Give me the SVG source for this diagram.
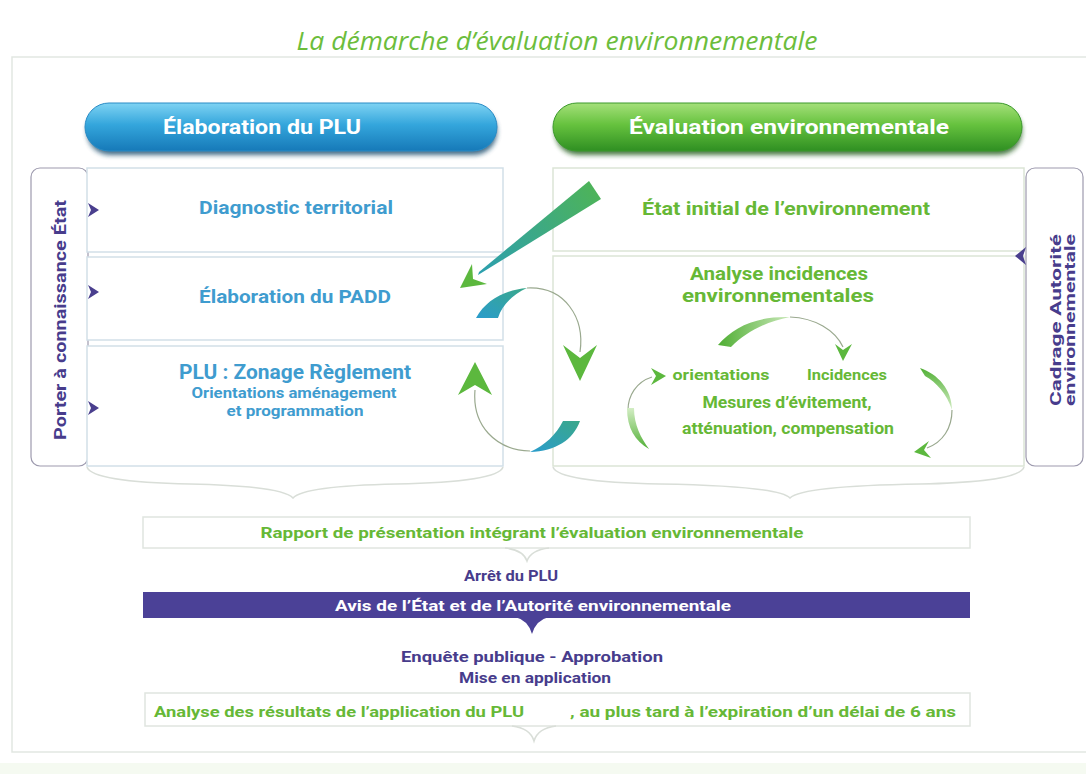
<svg xmlns="http://www.w3.org/2000/svg" width="1086" height="774" viewBox="0 0 1086 774">
<defs>
<style>
.t{font-family:Roboto,"Open Sans","Liberation Sans",sans-serif;font-weight:700;}
.blue{fill:#3f9ccf;}
.green{fill:#66b836;}
.purple{fill:#473c8c;}
.lbox{fill:#ffffff;stroke:#d2dfe8;stroke-width:1.5;}
.rbox{fill:#ffffff;stroke:#dbe5d6;stroke-width:1.5;}
.side{fill:#ffffff;stroke:#9d9aae;stroke-width:1.2;}
.brace{fill:none;stroke:#d9ded8;stroke-width:1.6;}
.thin{fill:none;stroke:#9aa98f;stroke-width:1.2;}
.head{fill:#5cb83e;}
.tri{fill:#4a3f8e;}
</style>
<linearGradient id="gBlue" x1="0" y1="0" x2="0" y2="1">
<stop offset="0" stop-color="#7fd3f3"/>
<stop offset="0.45" stop-color="#34a6dc"/>
<stop offset="1" stop-color="#1679b8"/>
</linearGradient>
<linearGradient id="gGreen" x1="0" y1="0" x2="0" y2="1">
<stop offset="0" stop-color="#a5e07a"/>
<stop offset="0.45" stop-color="#66c23e"/>
<stop offset="1" stop-color="#2f8f22"/>
</linearGradient>
<linearGradient id="gWedge" x1="595" y1="190" x2="478" y2="274" gradientUnits="userSpaceOnUse">
<stop offset="0" stop-color="#4db35a"/>
<stop offset="1" stop-color="#2c9fb0"/>
</linearGradient>
<linearGradient id="gCres" x1="0" y1="1" x2="1" y2="0">
<stop offset="0" stop-color="#2a9ccc"/>
<stop offset="1" stop-color="#3aa88a"/>
</linearGradient>
<linearGradient id="gArc" x1="0" y1="0" x2="1" y2="0">
<stop offset="0" stop-color="#4fae33"/>
<stop offset="1" stop-color="#c9e8b8"/>
</linearGradient>
<linearGradient id="gArcV" x1="0" y1="0" x2="0" y2="1">
<stop offset="0" stop-color="#d3edc4"/>
<stop offset="1" stop-color="#52b036"/>
</linearGradient>
<linearGradient id="gArcV2" x1="0" y1="0" x2="0" y2="1">
<stop offset="0" stop-color="#52b036"/>
<stop offset="1" stop-color="#d3edc4"/>
</linearGradient>
<filter id="sh" x="-10%" y="-30%" width="120%" height="170%">
<feGaussianBlur stdDeviation="2.5"/>
</filter>
</defs>

<rect x="0" y="0" width="1086" height="774" fill="#ffffff"/>
<rect x="12" y="57" width="1090" height="695" fill="#ffffff" stroke="#e2e7e2" stroke-width="1.5"/>
<rect x="0" y="763" width="1086" height="11" fill="#f5faf1"/>

<g id="title">
<text x="557" y="50" text-anchor="middle" font-family="'Open Sans','Liberation Sans',sans-serif" font-style="italic" font-size="26" fill="#6cbd3c" textLength="521" lengthAdjust="spacingAndGlyphs">La démarche d’évaluation environnementale</text>
</g>

<g id="header-plu">
<rect x="87" y="108" width="410" height="47" rx="23" fill="#17496a" filter="url(#sh)" opacity="0.8"/>
<rect x="85" y="103" width="412" height="48" rx="24" fill="url(#gBlue)" stroke="#2a8cc6" stroke-width="1"/>
<text class="t" x="262" y="134" text-anchor="middle" font-size="20" fill="#ffffff" textLength="198" lengthAdjust="spacingAndGlyphs">Élaboration du PLU</text>
</g>

<g id="header-eval">
<rect x="555" y="108" width="467" height="47" rx="23" fill="#1d5a17" filter="url(#sh)" opacity="0.8"/>
<rect x="553" y="103" width="469" height="48" rx="24" fill="url(#gGreen)" stroke="#3c9a2c" stroke-width="1"/>
<text class="t" x="789" y="134" text-anchor="middle" font-size="20" fill="#ffffff" textLength="320" lengthAdjust="spacingAndGlyphs">Évaluation environnementale</text>
</g>

<g id="porter">
<rect class="side" x="31" y="168" width="57" height="298" rx="9"/>
<text class="t purple" transform="translate(66,320) rotate(-90)" text-anchor="middle" font-size="16" textLength="240" lengthAdjust="spacingAndGlyphs">Porter à connaissance État</text>
</g>

<g id="cadrage">
<rect class="side" x="1026" y="168" width="57" height="298" rx="9"/>
<text class="t purple" transform="translate(1061,320) rotate(-90)" text-anchor="middle" font-size="14" textLength="172" lengthAdjust="spacingAndGlyphs">Cadrage Autorité</text>
<text class="t purple" transform="translate(1075,320) rotate(-90)" text-anchor="middle" font-size="14" textLength="172" lengthAdjust="spacingAndGlyphs">environnementale</text>
</g>

<g id="diagnostic">
<rect class="lbox" x="87" y="168" width="416" height="84"/>
<text class="t blue" x="296" y="214" text-anchor="middle" font-size="18" textLength="194" lengthAdjust="spacingAndGlyphs">Diagnostic territorial</text>
</g>

<g id="padd">
<rect class="lbox" x="87" y="257" width="416" height="83"/>
<text class="t blue" x="295" y="303" text-anchor="middle" font-size="18" textLength="192" lengthAdjust="spacingAndGlyphs">Élaboration du PADD</text>
</g>

<g id="zonage">
<rect class="lbox" x="87" y="346" width="416" height="120"/>
<text class="t blue" x="295" y="379" text-anchor="middle" font-size="20" textLength="232" lengthAdjust="spacingAndGlyphs">PLU : Zonage Règlement</text>
<text class="t blue" x="294" y="398" text-anchor="middle" font-size="15" textLength="205" lengthAdjust="spacingAndGlyphs">Orientations aménagement</text>
<text class="t blue" x="295" y="416" text-anchor="middle" font-size="15" textLength="137" lengthAdjust="spacingAndGlyphs">et programmation</text>
</g>

<g id="etat-initial">
<rect class="rbox" x="553" y="168" width="471" height="83"/>
<text class="t green" x="786" y="215" text-anchor="middle" font-size="18" textLength="288" lengthAdjust="spacingAndGlyphs">État initial de l’environnement</text>
</g>

<g id="analyse">
<rect class="rbox" x="553" y="256" width="471" height="210"/>
<text class="t green" x="779" y="280" text-anchor="middle" font-size="19" textLength="178" lengthAdjust="spacingAndGlyphs">Analyse incidences</text>
<text class="t green" x="778" y="302" text-anchor="middle" font-size="19" textLength="192" lengthAdjust="spacingAndGlyphs">environnementales</text>
<text class="t green" x="721" y="380" text-anchor="middle" font-size="15" textLength="97" lengthAdjust="spacingAndGlyphs">orientations</text>
<text class="t green" x="847" y="380" text-anchor="middle" font-size="15" textLength="80" lengthAdjust="spacingAndGlyphs">Incidences</text>
<text class="t green" x="787" y="408" text-anchor="middle" font-size="16" textLength="169" lengthAdjust="spacingAndGlyphs">Mesures d’évitement,</text>
<text class="t green" x="788" y="434" text-anchor="middle" font-size="16" textLength="212" lengthAdjust="spacingAndGlyphs">atténuation, compensation</text>
</g>

<g id="rapport">
<rect x="143" y="517" width="827" height="31" fill="#ffffff" stroke="#e0e5df" stroke-width="1.5"/>
<text class="t green" x="532" y="538" text-anchor="middle" font-size="15" textLength="543" lengthAdjust="spacingAndGlyphs">Rapport de présentation intégrant l’évaluation environnementale</text>
</g>

<g id="arret">
<text class="t purple" x="511" y="581" text-anchor="middle" font-size="14" textLength="94" lengthAdjust="spacingAndGlyphs">Arrêt du PLU</text>
</g>

<g id="avis">
<rect x="143" y="592" width="827" height="26" fill="#4b4197"/>
<text class="t" x="533" y="611" text-anchor="middle" font-size="15" fill="#ffffff" textLength="396" lengthAdjust="spacingAndGlyphs">Avis de l’État et de l’Autorité environnementale</text>
</g>

<g id="enquete">
<text class="t purple" x="532" y="662" text-anchor="middle" font-size="15" textLength="262" lengthAdjust="spacingAndGlyphs">Enquête publique  -  Approbation</text>
<text class="t purple" x="535" y="683" text-anchor="middle" font-size="15" textLength="152" lengthAdjust="spacingAndGlyphs">Mise en application</text>
</g>

<g id="analyse-resultats">
<rect x="145" y="693" width="825" height="33" fill="#ffffff" stroke="#e0e5df" stroke-width="1.5"/>
<text class="t green" x="154" y="717" font-size="15" textLength="370" lengthAdjust="spacingAndGlyphs">Analyse des résultats de l’application du PLU</text>
<text class="t green" x="570" y="717" font-size="15" textLength="386" lengthAdjust="spacingAndGlyphs">, au plus tard à l’expiration d’un délai de 6 ans</text>
</g>

<g id="connectors">
<!-- side triangles -->
<path class="tri" d="M88,203 L99,210 L88,217 L91,210 Z"/>
<path class="tri" d="M88,285 L99,292 L88,299 L91,292 Z"/>
<path class="tri" d="M88,401 L99,408 L88,415 L91,408 Z"/>
<path class="tri" d="M1026,247 L1015,256 L1026,265 L1023,256 Z"/>

<!-- braces -->
<path class="brace" d="M87,467 Q92,482 190,484 Q282,486 293,498 Q304,486 396,484 Q498,482 503,467"/>
<path class="brace" d="M553,467 Q558,482 660,484 Q778,486 790,498 Q802,486 920,484 Q1019,482 1024,467"/>
<path class="brace" d="M505,548 Q523,550 527,561 Q531,550 549,548"/>
<path class="brace" d="M512,726 Q530,728 534,741 Q538,728 556,726"/>

<!-- triangle under avis -->
<path d="M515,617 Q528,620 532,634 Q536,620 549,617 Z" fill="#4b4197"/>

<!-- wedge arrow from Etat initial to PADD -->
<polygon points="601,199 589,181 479,272 478,275" fill="url(#gWedge)"/>
<polygon points="460,288 472,264 473,279 487,284" class="head"/>

<!-- upper crescent and arc down -->
<path d="M476,318 C486,300 505,290 527,288 C512,295 502,305 498,318 Z" fill="url(#gCres)"/>
<path class="thin" d="M527,288 C565,286 585,318 580,352"/>
<polygon points="580,381 563,345 580,358 597,345" class="head"/>

<!-- lower crescent and arc up -->
<path d="M563,421 L580,421 C573,440 556,451 530,452 C545,445 556,435 563,421 Z" fill="url(#gCres)"/>
<path class="thin" d="M530,451 C495,450 472,425 475,390"/>
<polygon points="475,362 458,395 475,385 492,395" class="head"/>

<!-- analyse cycle arrows -->
<path d="M718,345 C734,326 758,316 790,317 C765,322 746,332 731,347 Z" fill="url(#gArc)"/>
<path class="thin" d="M790,317 C815,318 835,330 843,347" stroke="#a8b89c"/>
<polygon points="843,361 835,344 843,350 852,344" class="head"/>

<polygon points="666,376 651,368 656,376 651,385" class="head"/>
<path class="thin" d="M652,377 C636,382 628,396 628,410" stroke="#a8b89c"/>
<path d="M627,408 C627,428 635,441 649,449 C641,438 634,425 634,408 Z" fill="url(#gArcV)"/>

<path d="M920,368 C938,374 952,390 952,410 C947,394 936,382 925,376 Z" fill="url(#gArcV2)"/>
<path class="thin" d="M952,410 C952,428 943,442 927,448" stroke="#a8b89c"/>
<polygon points="914,452 929,441 924,450 931,458" class="head"/>
</g>
</svg>
